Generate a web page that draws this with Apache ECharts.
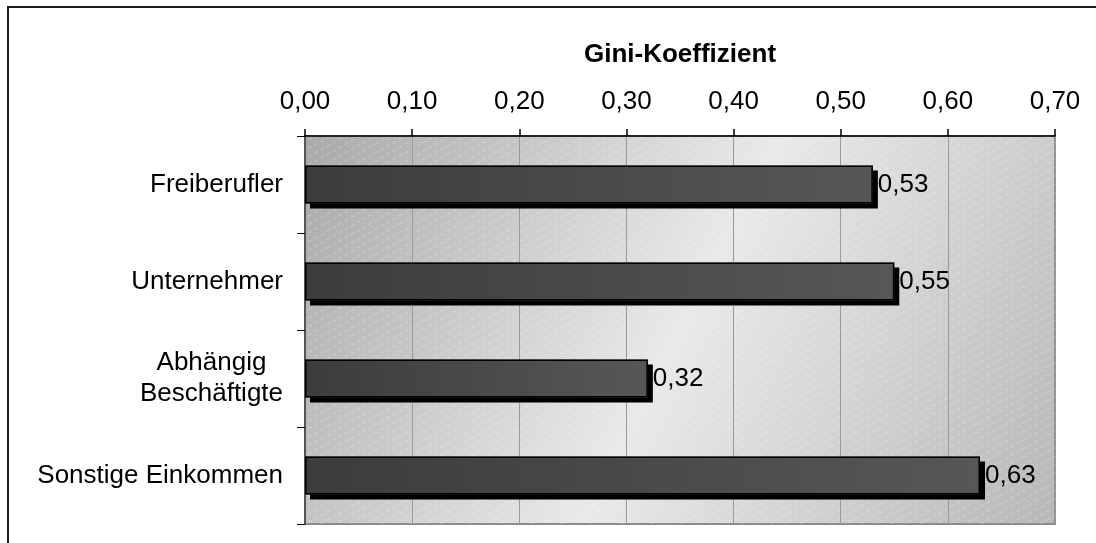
<!DOCTYPE html>
<html>
<head>
<meta charset="utf-8">
<script src="https://cdn.jsdelivr.net/npm/echarts@6/dist/echarts.min.js"></script>
<style>
  html, body { margin: 0; padding: 0; background: #fff; }
  #chart { width: 1096px; height: 543px; }
</style>
</head>
<body>
<div id="chart"></div>
<script>
// Gini coefficient by income group
const categories = ['Freiberufler', 'Unternehmer', 'Abhängig\nBeschäftigte', 'Sonstige Einkommen'];
const giniValues = [0.53, 0.55, 0.32, 0.63];
const axisTitle = 'Gini-Koeffizient';

const FONT = 'Liberation Sans, Arial, sans-serif';
const FS = 26;
const fmt = v => v.toFixed(2).replace('.', ',');

// plot area layout
const G = { left: 305, top: 136, right: 41, bottom: 19 };
const plotW = 1096 - G.left - G.right;
const plotH = 543 - G.top - G.bottom;

// diagonal dashed hatching tile for the plot background
function hatchTile() {
  const w = 60, h = 34;
  const c = document.createElement('canvas');
  c.width = w; c.height = h;
  const ctx = c.getContext('2d');
  ctx.strokeStyle = 'rgba(255,255,255,0.4)';
  ctx.lineWidth = 0.8;
  ctx.setLineDash([4, 3]);
  const k0 = 17 / 30;
  for (let k = -8; k <= 12; k++) {
    const cst = 8.5 * k;
    ctx.beginPath();
    ctx.moveTo(-10, cst + 10 * k0);
    ctx.lineTo(w + 10, cst - (w + 10) * k0);
    ctx.stroke();
  }
  return c;
}

const barFill = {
  type: 'linear', x: 0, y: 0, x2: 1, y2: 0,
  colorStops: [
    { offset: 0, color: '#3c3c3c' },
    { offset: 1, color: '#575757' }
  ]
};

const chart = echarts.init(document.getElementById('chart'), null, { renderer: 'canvas' });

chart.setOption({
  animation: false,
  backgroundColor: '#ffffff',
  grid: {
    left: G.left, top: G.top, right: G.right, bottom: G.bottom,
    show: true,
    backgroundColor: {
      type: 'linear', x: 0, y: 0, x2: 1, y2: 1,
      colorStops: [
        { offset: 0, color: '#a9a9a9' },
        { offset: 0.5, color: '#e9e9e9' },
        { offset: 1, color: '#b7b7b7' }
      ]
    },
    borderColor: '#8c8c8c',
    borderWidth: 2
  },
  graphic: [
    {
      type: 'rect', z: 0, silent: true,
      shape: { x: G.left, y: G.top, width: plotW, height: plotH },
      style: { fill: { image: hatchTile(), repeat: 'repeat' } }
    },
    {
      type: 'polyline', z: 10, silent: true,
      shape: { points: [[8, 543], [8, 7], [1096, 7]] },
      style: { stroke: '#1a1a1a', lineWidth: 2, fill: null }
    }
  ],
  xAxis: {
    type: 'value',
    position: 'top',
    min: 0, max: 0.7, interval: 0.1,
    name: axisTitle,
    nameLocation: 'middle',
    nameGap: 68,
    nameTextStyle: { fontFamily: FONT, fontSize: FS, fontWeight: 'bold', color: '#000' },
    axisLine: { show: true, lineStyle: { color: '#000', width: 1.5 } },
    axisTick: { show: true, length: 7, lineStyle: { color: '#000', width: 1.5 } },
    axisLabel: {
      fontFamily: FONT, fontSize: FS, color: '#000', margin: 21,
      formatter: v => fmt(v)
    },
    splitLine: { show: true, lineStyle: { color: '#9a9a9a', width: 1 } }
  },
  yAxis: {
    type: 'category',
    inverse: true,
    data: categories,
    axisLine: { show: true, lineStyle: { color: '#555', width: 2 } },
    axisTick: { show: true, length: 8, lineStyle: { color: '#000', width: 1 } },
    axisLabel: {
      fontFamily: FONT, fontSize: FS, color: '#000', margin: 22, lineHeight: 31,
      formatter: v => v.indexOf('\n') >= 0
        ? v.split('\n').map(s => '{c|' + s + '}').join('\n')
        : v,
      rich: {
        c: { width: 143, align: 'center', fontFamily: FONT, fontSize: FS, lineHeight: 31, color: '#000' }
      }
    },
    splitLine: { show: false }
  },
  series: [
    {
      // filled bar body casting the hard drop shadow
      type: 'bar',
      data: giniValues,
      barWidth: 38,
      barGap: '-100%',
      silent: true,
      itemStyle: {
        color: barFill,
        borderWidth: 0,
        shadowColor: '#000',
        shadowBlur: 0,
        shadowOffsetX: 5,
        shadowOffsetY: 5
      }
    },
    {
      // outline and value label on top
      type: 'bar',
      data: giniValues,
      barWidth: 38,
      barGap: '-100%',
      itemStyle: {
        color: 'rgba(0,0,0,0)',
        borderColor: '#000',
        borderWidth: 1.5
      },
      label: {
        show: true,
        position: 'right',
        distance: 5,
        fontFamily: FONT, fontSize: FS, color: '#000',
        formatter: p => fmt(p.value)
      }
    }
  ]
});
</script>
</body>
</html>
